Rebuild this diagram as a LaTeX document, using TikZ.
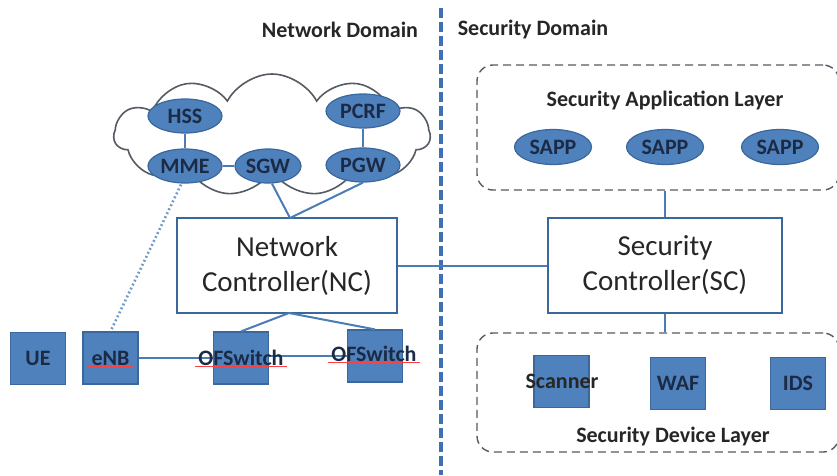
\documentclass[tikz,border=0pt]{standalone}
\usepackage{fontspec}
\setmainfont{Carlito}
\usetikzlibrary{shapes.geometric,shapes.symbols}

\definecolor{nodeblue}{HTML}{4F81BD}
\definecolor{edgeblue}{HTML}{3A679C}
\definecolor{linkblue}{HTML}{4A7DB8}
\definecolor{divblue}{HTML}{3F6FB5}
\definecolor{inktext}{HTML}{1C2B45}
\definecolor{graytext}{HTML}{262626}
\definecolor{outline}{HTML}{555B63}

\newcommand{\lblfont}{\fontsize{22}{26}\selectfont\bfseries}
\newcommand{\bigfont}{\fontsize{29}{35}\selectfont}

\tikzset{
  ell/.style={ellipse, fill=nodeblue, draw=edgeblue, line width=1.2pt,
    minimum width=74pt, minimum height=34pt, inner sep=0pt,
    font=\lblfont, text=inktext},
  blk/.style={rectangle, fill=nodeblue, draw=edgeblue, line width=1.2pt,
    minimum width=55pt, minimum height=52pt, inner sep=0pt,
    font=\lblfont, text=inktext},
  ctrl/.style={rectangle, fill=white, draw=edgeblue, line width=1.6pt,
    minimum width=220pt, minimum height=95pt, align=center,
    font=\bigfont, text=graytext},
  layer/.style={draw=outline, line width=1.4pt, dash pattern=on 8pt off 5pt,
    rounded corners=16pt},
  link/.style={draw=linkblue, line width=2pt},
  title/.style={font=\lblfont, text=graytext},
  squiggle/.style={draw=red!75, line width=0.9pt}
}

\begin{document}
\begin{tikzpicture}[x=1pt, y=-1pt]
\useasboundingbox (0,0) rectangle (837,475);

% domain titles and divider
\node[title] (netdom) at (340,30) {Network Domain};
\node[title] (secdom) at (533,30) {Security Domain};
\coordinate (divtop) at (441,8);
\coordinate (divbot) at (441,475);
\draw[divblue, line width=3.6pt, dash pattern=on 10pt off 4pt] (divtop) -- (divbot);

% core network cloud
\node[cloud, cloud puffs=11, cloud puff arc=125, aspect=2.6, draw=outline,
  line width=1.6pt, minimum width=316pt, minimum height=122pt] (core) at (272,135) {};

% security layers
\node[layer, minimum width=362pt, minimum height=125pt] (applayer) at (658,127.5) {};
\node[layer, minimum width=362pt, minimum height=119pt] (devlayer) at (658,392.5) {};
\node[title] (applbl) at (665,100) {Security Application Layer};
\node[title] (devlbl) at (673,436) {Security Device Layer};

% controllers
\node[ctrl] (nc) at (287,265.5) {Network\\Controller(NC)};
\node[ctrl, minimum width=234pt] (sc) at (665,265.5) {Security\\Controller(SC)};

% EPC elements
\node[ell] (hss) at (185,116) {HSS};
\node[ell] (mme) at (185,166) {MME};
\node[ell, minimum width=66pt] (sgw) at (268,166) {SGW};
\node[ell] (pcrf) at (363,111) {PCRF};
\node[ell] (pgw) at (363,165) {PGW};

% security applications
\node[ell, minimum width=77pt, minimum height=35pt] (sapp1) at (553,147) {SAPP};
\node[ell, minimum width=77pt, minimum height=35pt] (sapp2) at (665,147) {SAPP};
\node[ell, minimum width=77pt, minimum height=35pt] (sapp3) at (780,147) {SAPP};

% data plane boxes
\node[blk] (ue) at (38,358.5) {UE};
\node[blk] (enb) at (110.5,358) {};
\node[blk] (ofs1) at (241,358) {};
\node[blk] (ofs2) at (375,356) {};

% security devices
\node[blk] (scan) at (561.5,381.5) {};
\node[blk] (waf) at (678,383.5) {WAF};
\node[blk] (ids) at (798,383.5) {IDS};

% connectors
\draw[link] (hss) -- (mme);
\draw[link] (pcrf) -- (pgw);
\draw[link] (mme) -- (sgw);
\coordinate (nctop) at (290,218);
\coordinate (ncbot) at (289,313);
\draw[link] (sgw.south) ++(4,0) -- (nctop);
\draw[link] (pgw.south) -- (nctop);
\draw[link] (nc) -- (sc);
\draw[link] (sc.north) -- (sc.north |- applayer.south);
\draw[link] (sc.south) -- (sc.south |- devlayer.north);
\draw[link] (ncbot) -- (ofs1.north);
\draw[link] (ncbot) -- (ofs2.north);
\draw[link] (enb.east) -- (ofs1.west);
\draw[link] (ofs1.east |- ofs2.west) -- (ofs2.west);
\draw[linkblue!80, line width=2.6pt, dash pattern=on 1.8pt off 2.6pt]
  (mme.south) ++(-4,1) coordinate (dotstart) -- (enb.north);

% labels overlapping the boxes
\node[font=\lblfont, text=inktext] (enblbl) at (enb) {eNB};
\node[font=\lblfont, text=inktext] (ofs1lbl) at (ofs1) {OFSwitch};
\node[font=\lblfont, text=inktext] (ofs2lbl) at (374,354) {OFSwitch};
\node[font=\lblfont, text=graytext] (scanlbl) at (562,381) {Scanner};

% spell-check underlines
\draw[squiggle] ([yshift=-1pt]enblbl.base west) -- ([yshift=-1pt]enblbl.base east);
\draw[squiggle] ([yshift=-1pt]ofs1lbl.base west) -- ([yshift=-1pt]ofs1lbl.base east);
\draw[squiggle] ([yshift=-1pt]ofs2lbl.base west) -- ([yshift=-1pt]ofs2lbl.base east);
\end{tikzpicture}
\end{document}
